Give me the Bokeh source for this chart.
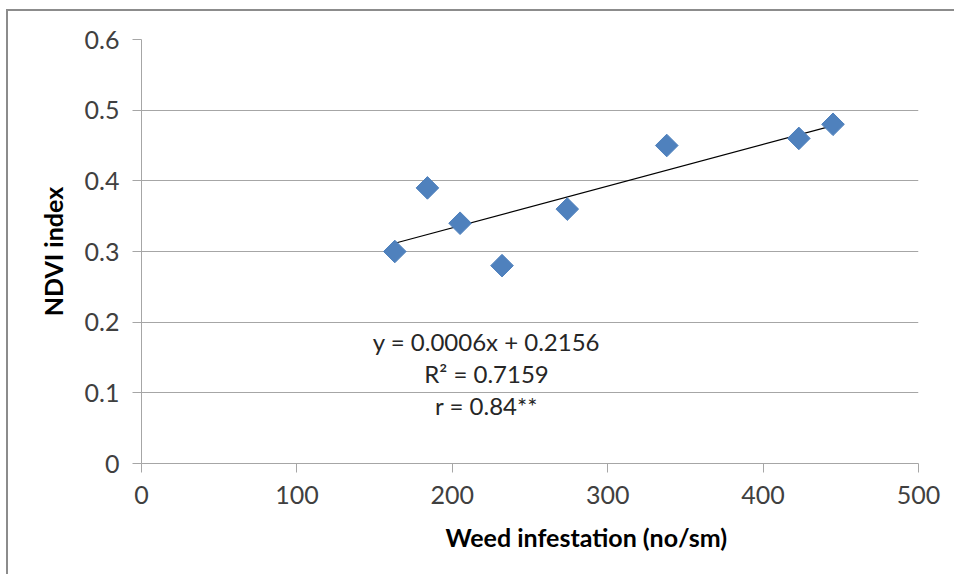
import numpy as np
from bokeh.plotting import figure
from bokeh.models import Label, FixedTicker, Range1d, Title
from bokeh.embed import file_html
from bokeh.resources import INLINE

# Data
weed = [163, 184, 205, 232, 274, 338, 423, 445]
ndvi = [0.30, 0.39, 0.34, 0.28, 0.36, 0.45, 0.46, 0.48]
x_ticks = [0, 100, 200, 300, 400, 500]
y_ticks = [0, 0.1, 0.2, 0.3, 0.4, 0.5, 0.6]
eq_lines = ["y = 0.0006x + 0.2156", "R\u00b2 = 0.7159", "r = 0.84**"]
eq_y = [0.173, 0.127, 0.082]
x_label = "Weed infestation (no/sm)"
y_label = "NDVI index"

FONT = "Lato"

p = figure(width=948, height=565, output_backend="svg", toolbar_location=None,
           x_range=Range1d(0, 500), y_range=Range1d(0, 0.6),
           min_border_left=133, min_border_top=28, min_border_right=38, min_border_bottom=113)
p.styles = {"border-left": "2px solid #8c8c8c", "border-top": "2px solid #8c8c8c",
            "margin-left": "6px", "margin-top": "9px"}
p.outline_line_color = None
p.background_fill_color = "white"
p.border_fill_color = "white"

# axes
p.xaxis.ticker = FixedTicker(ticks=x_ticks)
p.yaxis.ticker = FixedTicker(ticks=y_ticks)
p.yaxis.formatter.use_scientific = False
for ax in (p.xaxis[0], p.yaxis[0]):
    ax.axis_line_color = "#a6a6a6"
    ax.major_tick_line_color = "#a6a6a6"
    ax.major_tick_in = 0
    ax.major_tick_out = 9
    ax.minor_tick_line_color = None
    ax.major_label_text_font = FONT
    ax.major_label_text_font_size = "25px"
    ax.major_label_text_color = "#404040"
p.xaxis.major_label_standoff = 13
p.yaxis.major_label_standoff = 13
p.yaxis.axis_label = y_label
p.yaxis.axis_label_text_font = FONT
p.yaxis.axis_label_text_font_style = "bold"
p.yaxis.axis_label_text_font_size = "25px"
p.yaxis.axis_label_text_color = "black"
p.yaxis.axis_label_standoff = 14

p.xgrid.grid_line_color = None
p.ygrid.grid_line_color = "#a6a6a6"
p.ygrid.grid_line_width = 1

# trendline (least squares)
slope, intercept = np.polyfit(weed, ndvi, 1)
xs = np.array([min(weed), max(weed)])
p.line(xs, slope * xs + intercept, line_color="black", line_width=1.2)

# points
p.scatter(weed, ndvi, marker="square", angle=np.pi / 4, size=16,
          fill_color="#4f81bd", line_color="#4f81bd")

# equation text
for t, yy in zip(eq_lines, eq_y):
    p.add_layout(Label(x=222, y=yy, text=t, text_align="center", text_baseline="middle",
                       text_font=FONT, text_font_size="24px", text_color="#262626"))

# x-axis label (offset to the right as in original)
p.add_layout(Title(text=x_label, align="left", offset=304, standoff=27,
                   text_font=FONT, text_font_style="bold", text_font_size="25px",
                   text_color="black"), "below")

open("out.html", "w").write(file_html(p, INLINE))
